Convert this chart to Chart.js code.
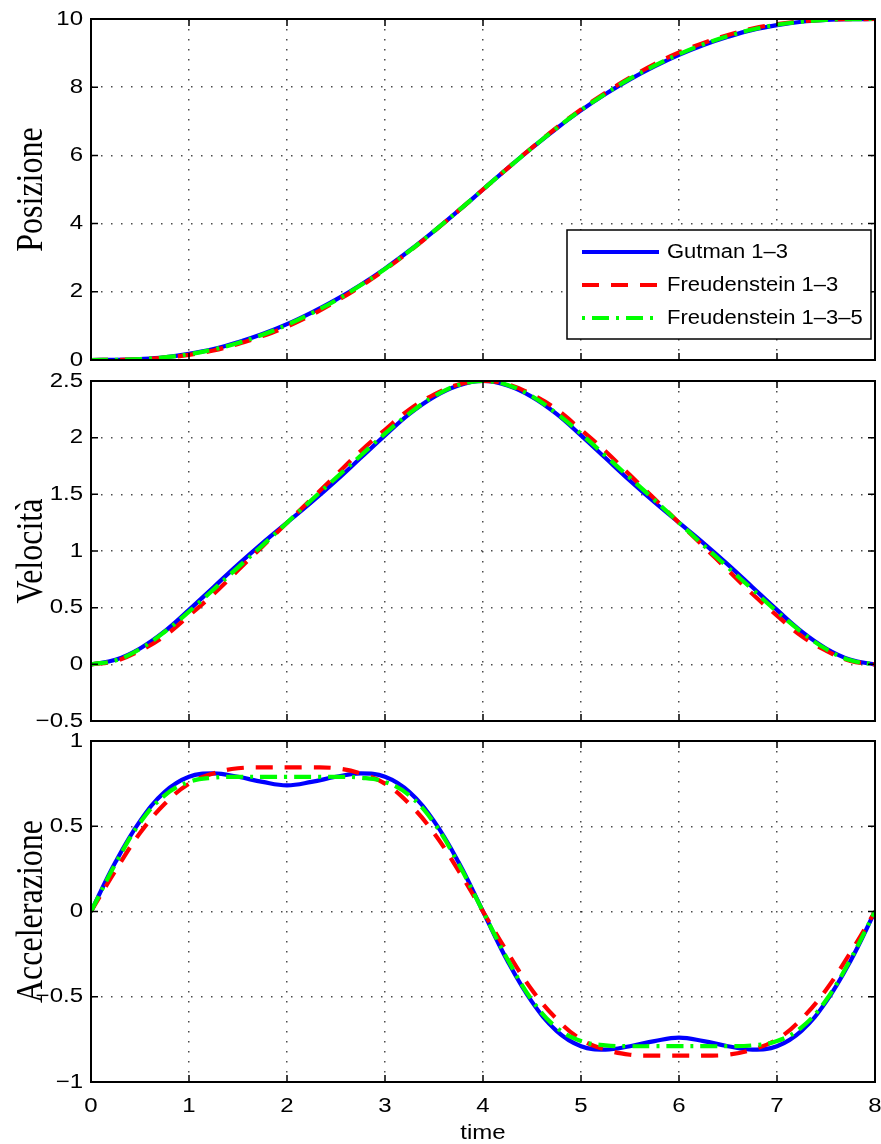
<!DOCTYPE html>
<html>
<head>
<meta charset="utf-8">
<title>Posizione, Velocità, Accelerazione</title>
<script src="https://cdn.jsdelivr.net/npm/chart.js@4.4.1/dist/chart.umd.min.js"></script>
<style>
  html, body { margin: 0; padding: 0; background: #fff; }
  #wrap { position: relative; width: 881px; height: 1144px; overflow: hidden; background: #fff; }
  canvas { position: absolute; left: 0; }
</style>
</head>
<body>
<div id="wrap">
  <canvas id="pos" width="881" height="370" style="top:0px"></canvas>
  <canvas id="vel" width="881" height="370" style="top:362px"></canvas>
  <canvas id="acc" width="881" height="422" style="top:722px"></canvas>
</div>
<script>
'use strict';

// time samples (s)
const T = [0, 0.25, 0.5, 0.75, 1, 1.25, 1.5, 1.75, 2, 2.25, 2.5, 2.75, 3, 3.25, 3.5, 3.75,
           4, 4.25, 4.5, 4.75, 5, 5.25, 5.5, 5.75, 6, 6.25, 6.5, 6.75, 7, 7.25, 7.5, 7.75, 8];

const X_TICKS = [0, 1, 2, 3, 4, 5, 6, 7, 8];
const POS_TICKS = [0, 2, 4, 6, 8, 10];
const VEL_TICKS = [-0.5, 0, 0.5, 1, 1.5, 2, 2.5];
const ACC_TICKS = [-1, -0.5, 0, 0.5, 1];

const SERIES_NAMES = ['Gutman 1\u20133', 'Freudenstein 1\u20133', 'Freudenstein 1\u20133\u20135'];

const posGutman   = [0, 0.005, 0.03, 0.08, 0.18, 0.32, 0.52, 0.76, 1.05, 1.39, 1.77, 2.2, 2.68, 3.21, 3.78, 4.38,
                     5, 5.62, 6.22, 6.79, 7.32, 7.8, 8.23, 8.61, 8.95, 9.24, 9.48, 9.68, 9.82, 9.92, 9.97, 9.995, 10];
const posFreud13  = [0, 0.004, 0.02, 0.07, 0.15, 0.28, 0.47, 0.7, 0.98, 1.32, 1.72, 2.16, 2.65, 3.19, 3.77, 4.38,
                     5, 5.62, 6.23, 6.81, 7.35, 7.84, 8.28, 8.68, 9.02, 9.3, 9.53, 9.72, 9.85, 9.93, 9.98, 9.996, 10];
const posFreud135 = [0, 0.004, 0.025, 0.08, 0.17, 0.31, 0.5, 0.74, 1.03, 1.37, 1.75, 2.19, 2.67, 3.2, 3.78, 4.38,
                     5, 5.62, 6.22, 6.8, 7.33, 7.81, 8.25, 8.63, 8.97, 9.26, 9.5, 9.69, 9.83, 9.92, 9.975, 9.996, 10];

const velGutman   = [0, 0.04, 0.14, 0.29, 0.48, 0.68, 0.88, 1.07, 1.25, 1.43, 1.62, 1.82, 2.02, 2.21, 2.36, 2.46,
                     2.5, 2.46, 2.36, 2.21, 2.02, 1.82, 1.62, 1.43, 1.25, 1.07, 0.88, 0.68, 0.48, 0.29, 0.14, 0.04, 0];
const velFreud13  = [0, 0.03, 0.12, 0.25, 0.43, 0.62, 0.83, 1.04, 1.25, 1.46, 1.67, 1.88, 2.07, 2.25, 2.38, 2.47,
                     2.5, 2.47, 2.38, 2.25, 2.07, 1.88, 1.67, 1.46, 1.25, 1.04, 0.83, 0.62, 0.43, 0.25, 0.12, 0.03, 0];
const velFreud135 = [0, 0.035, 0.135, 0.285, 0.465, 0.66, 0.855, 1.05, 1.25, 1.45, 1.645, 1.84, 2.035, 2.215, 2.365, 2.465,
                     2.5, 2.465, 2.365, 2.215, 2.035, 1.84, 1.645, 1.45, 1.25, 1.05, 0.855, 0.66, 0.465, 0.285, 0.135, 0.035, 0];

const accGutman   = [0, 0.29, 0.53, 0.7, 0.79, 0.81, 0.79, 0.76, 0.74, 0.76, 0.79, 0.81, 0.79, 0.7, 0.53, 0.29,
                     0, -0.29, -0.53, -0.7, -0.79, -0.81, -0.79, -0.76, -0.74, -0.76, -0.79, -0.81, -0.79, -0.7, -0.53, -0.29, 0];
const accFreud13  = [0, 0.24, 0.46, 0.63, 0.75, 0.81, 0.84, 0.845, 0.845, 0.845, 0.84, 0.81, 0.75, 0.63, 0.46, 0.24,
                     0, -0.24, -0.46, -0.63, -0.75, -0.81, -0.84, -0.845, -0.845, -0.845, -0.84, -0.81, -0.75, -0.63, -0.46, -0.24, 0];
const accFreud135 = [0, 0.28, 0.52, 0.68, 0.76, 0.785, 0.79, 0.79, 0.79, 0.79, 0.79, 0.785, 0.76, 0.68, 0.52, 0.28,
                     0, -0.28, -0.52, -0.68, -0.76, -0.785, -0.79, -0.79, -0.79, -0.79, -0.79, -0.785, -0.76, -0.68, -0.52, -0.28, 0];

const LINE_STYLES = [
    { color: '#0000ff', dash: [], order: 3 },
    { color: '#ff0000', dash: [17, 12], order: 2 },
    { color: '#00ff00', dash: [17, 7, 3, 7], order: 1 }
];

const STRETCH = 1.2;          // the reference text is a bit wide
const TICK_FONT = '20px "Liberation Sans", Arial, sans-serif';
const LEGEND_FONT = '20px "Liberation Sans", Arial, sans-serif';
const LABEL_FONT = '32px "Liberation Serif", "Times New Roman", serif';

function _fmt(v) {
    return v < 0 ? '\u2212' + String(-v) : String(v);
}

function _text(ctx, str, x, y, align, baseline, font, sx) {
    ctx.save();
    ctx.translate(x, y);
    ctx.scale(sx || STRETCH, 1);
    ctx.font = font;
    ctx.fillStyle = '#000';
    ctx.textAlign = align;
    ctx.textBaseline = baseline;
    ctx.fillText(str, 0, 0);
    ctx.restore();
}

// frame, inward ticks, tick labels and the y-axis title
const matlabFrame = {
    id: 'matlabFrame',
    afterDraw(chart, args, opts) {
        const { ctx, chartArea: a } = chart;
        const xs = chart.scales.x, ys = chart.scales.y;
        ctx.save();
        ctx.strokeStyle = '#000';
        ctx.lineWidth = 1.5;
        ctx.setLineDash([]);
        ctx.beginPath();
        xs.ticks.forEach(t => {
            const px = xs.getPixelForValue(t.value);
            ctx.moveTo(px, a.bottom); ctx.lineTo(px, a.bottom - 7);
            ctx.moveTo(px, a.top); ctx.lineTo(px, a.top + 7);
        });
        ys.ticks.forEach(t => {
            const py = ys.getPixelForValue(t.value);
            ctx.moveTo(a.left, py); ctx.lineTo(a.left + 7, py);
            ctx.moveTo(a.right, py); ctx.lineTo(a.right - 7, py);
        });
        ctx.stroke();
        ctx.lineWidth = 2;
        ctx.strokeRect(a.left, a.top, a.right - a.left, a.bottom - a.top);
        ctx.restore();

        ys.ticks.forEach(t => {
            _text(ctx, _fmt(t.value), a.left - 8, ys.getPixelForValue(t.value), 'right', 'middle', TICK_FONT);
        });
        if (opts.showX) {
            xs.ticks.forEach(t => {
                _text(ctx, _fmt(t.value), xs.getPixelForValue(t.value), a.bottom + 24, 'center', 'middle', TICK_FONT);
            });
            _text(ctx, 'time', (a.left + a.right) / 2, a.bottom + 51, 'center', 'middle', TICK_FONT);
        }

        ctx.save();
        ctx.translate(42, (a.top + a.bottom) / 2);
        ctx.scale(STRETCH, 1);
        ctx.rotate(-Math.PI / 2);
        ctx.font = LABEL_FONT;
        ctx.fillStyle = '#000';
        ctx.textAlign = 'center';
        ctx.textBaseline = 'alphabetic';
        ctx.fillText(opts.label, 0, 0);
        ctx.restore();
    }
};

// MATLAB-like legend box, top panel only
const lineLegend = {
    id: 'lineLegend',
    afterDraw(chart) {
        const ctx = chart.ctx;
        const rows = [252, 285, 318];
        ctx.save();
        ctx.fillStyle = '#fff';
        ctx.fillRect(567, 230, 304, 109);
        ctx.strokeStyle = '#000';
        ctx.lineWidth = 1.5;
        ctx.strokeRect(567, 230, 304, 109);
        LINE_STYLES.forEach((s, i) => {
            ctx.beginPath();
            ctx.strokeStyle = s.color;
            ctx.lineWidth = 4;
            ctx.lineCap = 'butt';
            ctx.setLineDash(i === 2 ? [3, 7, 17, 7] : s.dash);
            ctx.moveTo(582, rows[i]);
            ctx.lineTo(659, rows[i]);
            ctx.stroke();
        });
        ctx.restore();
        SERIES_NAMES.forEach((n, i) => _text(ctx, n, 667, rows[i], 'left', 'middle', LEGEND_FONT, 1.1));
    }
};

function _datasets(values) {
    return values.map((arr, i) => ({
        label: SERIES_NAMES[i],
        data: T.map((t, k) => ({ x: t, y: arr[k] })),
        borderColor: LINE_STYLES[i].color,
        borderDash: LINE_STYLES[i].dash,
        borderWidth: 4.2,
        borderCapStyle: 'butt',
        order: LINE_STYLES[i].order,
        pointRadius: 0,
        tension: 0.4,
        fill: false
    }));
}

function _gridScale(min, max, ticks, fit) {
    return {
        type: 'linear',
        min: min,
        max: max,
        afterBuildTicks: s => { s.ticks = ticks.map(v => ({ value: v })); },
        afterFit: fit,
        ticks: { display: false },
        grid: { color: 'rgba(0,0,0,0.7)', lineWidth: 1.5, drawTicks: false },
        border: { display: false, dash: [1.5, 8.5] }
    };
}

function makePanel(id, yMin, yMax, yTicks, values, label, bottomExtra, showX, extra) {
    return new Chart(document.getElementById(id), {
        type: 'line',
        data: { datasets: _datasets(values) },
        options: {
            responsive: false,
            animation: false,
            events: [],
            layout: { padding: { top: 19, right: 6, left: 0, bottom: 0 } },
            plugins: {
                legend: { display: false },
                tooltip: { enabled: false },
                matlabFrame: { label: label, showX: showX }
            },
            scales: {
                x: _gridScale(0, 8, X_TICKS, s => { s.height = bottomExtra; }),
                y: _gridScale(yMin, yMax, yTicks, s => { s.width = 91; })
            }
        },
        plugins: [matlabFrame].concat(extra || [])
    });
}

makePanel('pos', 0, 10, POS_TICKS, [posGutman, posFreud13, posFreud135], 'Posizione', 10, false, [lineLegend]);
makePanel('vel', -0.5, 2.5, VEL_TICKS, [velGutman, velFreud13, velFreud135], 'Velocità', 11, false);
makePanel('acc', -1, 1, ACC_TICKS, [accGutman, accFreud13, accFreud135], 'Accelerazione', 62, true);
</script>
</body>
</html>
